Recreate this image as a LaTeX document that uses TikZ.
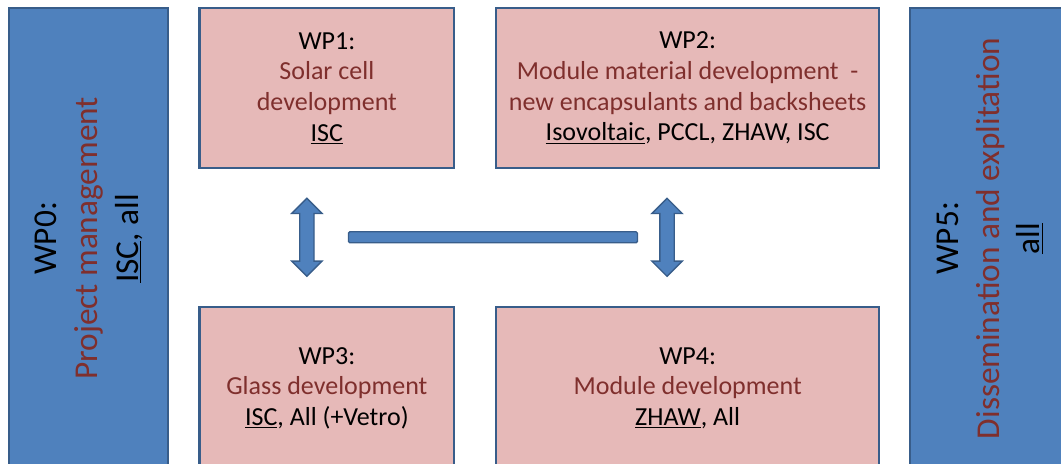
\documentclass[tikz,border=0pt]{standalone}
\usepackage{fontspec}
\setmainfont{Carlito}
\usetikzlibrary{positioning,shapes.arrows,calc}
\definecolor{wpblue}{HTML}{4F81BD}
\definecolor{wpline}{HTML}{385D8A}
\definecolor{wppink}{HTML}{E6B9B8}
\definecolor{wpred}{HTML}{7F2F2D}

\begin{document}
\begin{tikzpicture}[node distance=21.75pt and 21.75pt,
 pinkbox/.style={draw=wpline,line width=1.6pt,fill=wppink,align=center,inner sep=0pt,font=\fontsize{19.5}{23}\selectfont},
 bluebox/.style={draw=wpline,line width=1.6pt,fill=wpblue,inner sep=0pt,minimum width=119.5pt,minimum height=345pt},
 sidetext/.style={rotate=90,align=center,font=\fontsize{25}{30.5}\selectfont},
 updown/.style={double arrow,double arrow head extend=6pt,inner xsep=0pt,inner ysep=4.875pt,minimum height=58.5pt,draw=wpline,line width=1pt,fill=wpblue,rotate=90},
 link/.style={draw=wpline,line width=1pt,fill=wpblue,rounded corners=1pt,inner sep=0pt,minimum width=216.75pt,minimum height=8.25pt}]
\useasboundingbox (0,0) rectangle (795.75pt,-348pt);
\node[bluebox,anchor=north west] (wp0) at (6pt,-5.5pt) {};
\node[sidetext] (wp0txt) at (wp0.center) {WP0:\\\textcolor{wpred}{Project management}\\\underline{ISC}, all};
\node[pinkbox,minimum width=191pt,minimum height=119.5pt,below right=0pt and 21.75pt of wp0.north east] (wp1) {WP1:\\\textcolor{wpred}{Solar cell}\\\textcolor{wpred}{development}\\\underline{ISC}};
\node[pinkbox,minimum width=287pt,minimum height=119.5pt,right=30pt of wp1] (wp2) {WP2:\\\textcolor{wpred}{Module material development~~-}\\\textcolor{wpred}{new encapsulants and backsheets}\\\underline{Isovoltaic}, PCCL, ZHAW, ISC};
\node[bluebox,below right=0pt and 21.75pt of wp2.north east] (wp5) {};
\node[sidetext] (wp5txt) at (wp5.center) {WP5:\\\textcolor{wpred}{Dissemination and explitation}\\\underline{all}};
\node[pinkbox,minimum width=191pt,minimum height=122pt,below=102.75pt of wp1] (wp3) {WP3:\\\textcolor{wpred}{Glass development}\\\underline{ISC}, All (+Vetro)};
\node[pinkbox,minimum width=287pt,minimum height=122pt,below=102.75pt of wp2] (wp4) {WP4:\\\textcolor{wpred}{Module development}\\\underline{ZHAW}, All};
\node[updown] (a13) at ([xshift=-15pt]$(wp1.south)!.5!(wp3.north)$) {};
\node[updown] (a24) at ([xshift=-15.5pt]$(wp2.south)!.5!(wp4.north)$) {};
\node[link] (bar) at ([xshift=4.5pt]$(a13)!.5!(a24)$) {};
\end{tikzpicture}
\end{document}
